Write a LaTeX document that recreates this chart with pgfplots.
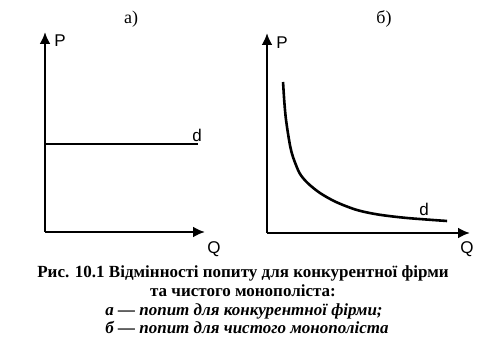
\documentclass[border=0pt]{standalone}
\usepackage{fontspec}
\setmainfont{Liberation Serif}
\newfontfamily\arial{Liberation Sans}
\usepackage{pgfplots}
\pgfplotsset{compat=1.18}
\usetikzlibrary{arrows.meta}
\begin{document}
\begin{tikzpicture}[x=0.5pt,y=-0.5pt]
\path[use as bounding box] (0,0) rectangle (480,346);
\pgfplotsset{
  econ/.style={
    scale only axis, axis lines=left, ticks=none,
    xmin=0, xmax=10, ymin=0, ymax=10, clip=false,
    axis line style={line width=1.2pt, -{Latex[length=6pt,width=5.5pt]}},
    anchor=origin,
  }
}
% panel a
\begin{axis}[econ, at={(22.5pt,-116pt)}, width=80pt, height=100pt]
\addplot[black, line width=1.2pt] coordinates {(0,4.4) (9.56,4.4)};
\end{axis}
% panel b
\begin{axis}[econ, at={(133.5pt,-116.5pt)}, width=101.5pt, height=100pt]
\addplot[black, line width=1.3pt, smooth] coordinates {
(0.79,7.55) (0.85,6.6) (0.92,5.8) (1.03,5.0) (1.15,4.3) (1.28,3.8)
(1.6,3.0) (2.0,2.5) (2.61,2.0) (3.4,1.55) (4.43,1.15) (5.5,0.92)
(6.9,0.75) (8.87,0.6)};
\end{axis}
% labels
\node[font=\fontsize{9}{10}\selectfont] at (131,19) {а)};
\node[font=\fontsize{9}{10}\selectfont] at (384,19) {б)};
\node[font=\arial\fontsize{8.5}{9}\selectfont] at (60,41) {P};
\node[font=\arial\fontsize{8.5}{9}\selectfont] at (282,43) {P};
\node[font=\arial\fontsize{8.5}{9}\selectfont] at (214,249) {Q};
\node[font=\arial\fontsize{8.5}{9}\selectfont] at (467,249) {Q};
\node[font=\arial\fontsize{8.5}{9}\selectfont] at (197,135) {d};
\node[font=\arial\fontsize{8.5}{9}\selectfont] at (424,209) {d};
% caption
\node[anchor=base, font=\bfseries\fontsize{8.5}{9}\selectfont] at (243,278) {Рис. 10.1 Відмінності попиту для конкурентної фірми};
\node[anchor=base, font=\bfseries\fontsize{8.5}{9}\selectfont] at (243,297) {та чистого монополіста:};
\node[anchor=base, font=\bfseries\itshape\fontsize{8.5}{9}\selectfont] at (244,315) {а — попит для конкурентної фірми;};
\node[anchor=base, font=\bfseries\itshape\fontsize{8.5}{9}\selectfont] at (247,333) {б — попит для чистого монополіста};
\end{tikzpicture}
\end{document}
